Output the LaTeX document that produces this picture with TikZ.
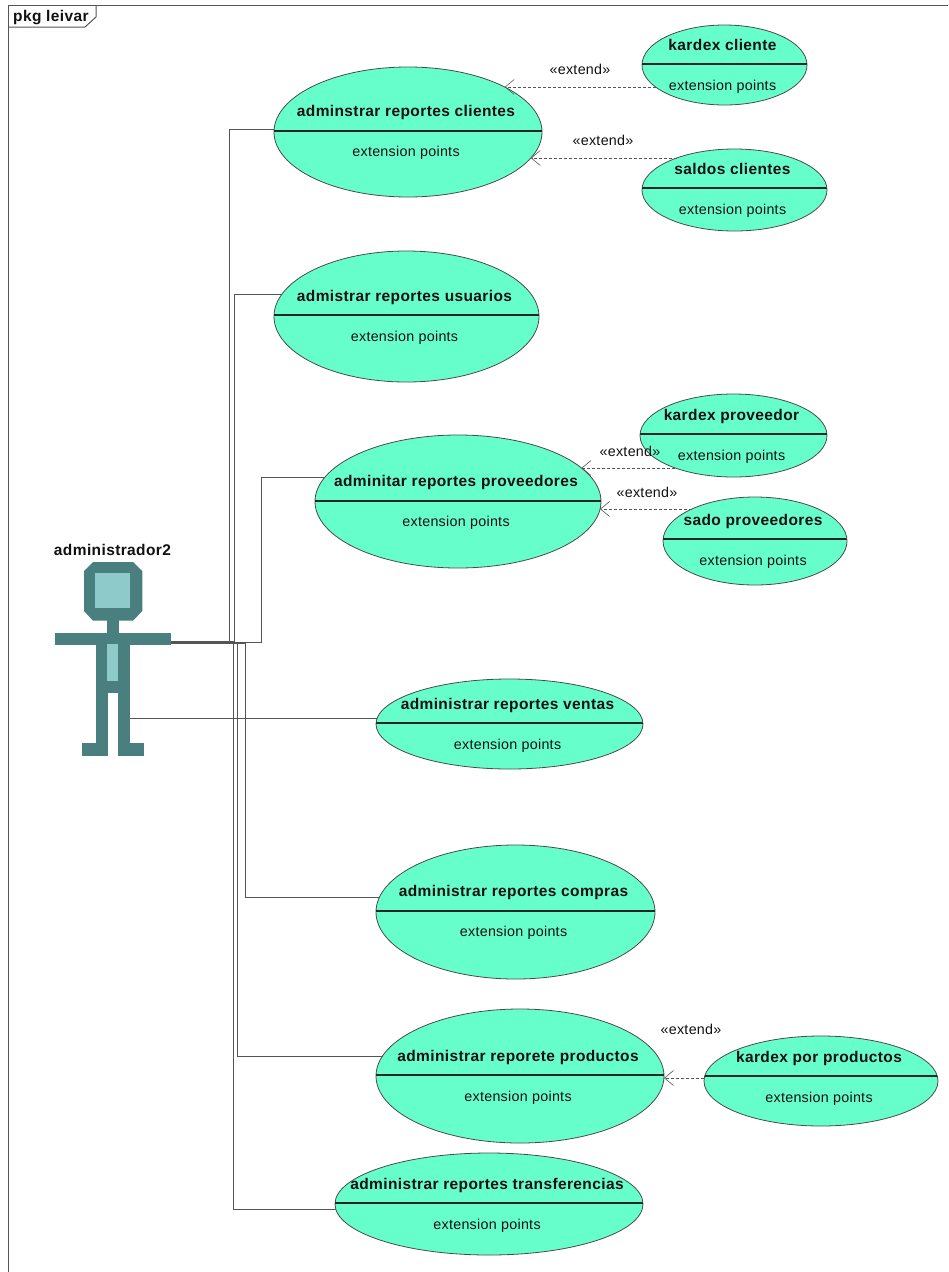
\documentclass[tikz,border=0pt]{standalone}
\usepackage{fontspec}
\setmainfont{Liberation Sans}
\usetikzlibrary{shapes.geometric,arrows.meta}
\definecolor{ucfill}{HTML}{66FFCC}
\definecolor{ucline}{HTML}{4A4A4A}
\definecolor{actordark}{HTML}{4A7F80}
\definecolor{actorlight}{HTML}{8FCACA}
\definecolor{wire}{HTML}{555555}
\definecolor{txt}{HTML}{111111}
\newcommand\boldface{\bfseries\fontsize{15.5}{17}\selectfont\addfontfeature{LetterSpace=2.5}}
\newcommand\plainface{\fontsize{14.3}{17}\selectfont\addfontfeature{LetterSpace=2}}
\tikzset{
  ucshape/.style={draw=ucline,fill=ucfill,line width=0.8pt,ellipse,inner sep=0pt,outer sep=0pt},
  uctitle/.style={font=\boldface,text=txt,inner sep=0pt,text height=11pt,text depth=3pt,yshift=-1pt},
  ucsub/.style={font=\plainface,text=txt,inner sep=0pt,text height=11pt,text depth=3pt,yshift=-1pt},
  stereo/.style={font=\plainface,text=txt,inner sep=0pt,text height=11pt,text depth=3pt,yshift=-1pt},
  divider/.style={draw=black!85,line width=1.1pt},
  assoc/.style={draw=wire,line width=0.9pt},
  extendline/.style={draw=wire,line width=1pt,dash pattern=on 3pt off 2pt,-{Straight Barb[length=9pt,width=15pt,line width=0.6pt]}},
  body/.style={fill=actordark,draw=none},
  bodylight/.style={fill=actorlight,draw=none},
  frameline/.style={draw=wire,line width=1pt}
}
\newcommand\usecase[9]{%
  \node[ucshape,minimum width={#3pt-#2pt},minimum height={#5pt-#4pt}] (#1) at ({(#2+#3)/2},{(#4+#5)/2}) {};
  \begin{scope}
    \clip ({(#2+#3)/2},{(#4+#5)/2}) ellipse [x radius={(#3-#2)/2},y radius={(#5-#4)/2}];
    \draw[divider] (#2,#6) -- (#3,#6);
  \end{scope}
  \node[uctitle] (#1title) at ({(#2+#3)/2-2},#7) {#9};
  \node[ucsub] (#1sub) at ({(#2+#3)/2-2},#8) {extension points};
}
\begin{document}
\begin{tikzpicture}[x=1pt,y=-1pt]
\useasboundingbox (0,0) rectangle (948,1272);
\fill[white] (0,0) rectangle (948,1272);
% frame
\draw[frameline] (8,1272) -- (8,5) -- (948,5);
\draw[frameline] (8,27) -- (85,27) -- (96,17) -- (96,5);
\node[uctitle,anchor=west] (pkg) at (13,16) {pkg leivar};
% use cases
\usecase{repcli}{274}{542}{67}{197}{131}{111}{151}{adminstrar reportes clientes}
\usecase{karcli}{642}{807}{25}{105}{64}{45}{85}{kardex cliente}
\usecase{salcli}{642}{827}{149}{231}{188}{169}{209}{saldos clientes}
\usecase{repusu}{274}{539}{251}{382}{315}{296}{336}{admistrar reportes usuarios}
\usecase{karpro}{640}{827}{394}{477}{434}{415}{455}{kardex proveedor}
\usecase{reppro}{315}{601}{435}{568}{501}{481}{521}{adminitar reportes proveedores}
\usecase{sadpro}{663}{847}{497}{585}{539}{520}{560}{sado proveedores}
\usecase{repven}{376}{643}{679}{769}{723}{704}{744}{administrar reportes ventas}
\usecase{repcom}{376}{655}{845}{979}{911}{891}{931}{administrar reportes compras}
\usecase{repprd}{376}{664}{1009}{1143}{1075}{1056}{1096}{administrar reporete productos}
\usecase{karprd}{704}{938}{1036}{1126}{1076}{1057}{1097}{kardex por productos}
\usecase{reptra}{335}{643}{1153}{1255}{1203}{1184}{1224}{administrar reportes transferencias}
% actor
\node[uctitle] (actorname) at (112.5,550) {administrador2};
\fill[body] (93,562) -- (133,562) -- (142.3,571) -- (142.3,611) -- (133,620.7) -- (93,620.7) -- (84,611) -- (84,571) -- cycle;
\fill[bodylight] (94.7,572.7) rectangle (130.3,608.3);
\fill[body] (107,620) rectangle (119.3,634);
\fill[body] (55.3,633) rectangle (171.3,645.3);
\fill[body] (96.3,645) rectangle (130.3,693.3);
\fill[body] (96.3,693) rectangle (108.3,756);
\fill[body] (118,693) rectangle (130.3,756);
\fill[body] (82.3,743.3) rectangle (108.3,756);
\fill[body] (118,743.3) rectangle (143.7,756);
\fill[bodylight] (107,644) rectangle (118,681);
\coordinate (handup) at (171,641);
\coordinate (handmid) at (171,642);
\coordinate (handdown) at (171,643);
\coordinate (leg) at (130,718);
% associations
\draw[assoc] (handup) -- ++(58,0) |- ([shift={(-133.9,-3)}]repcli.center);
\draw[assoc] (handup) -- ++(63,0) |- ([shift={(-124.4,-22.5)}]repusu.center);
\draw[assoc] (handmid) -- ++(90,0) |- ([shift={(-132.9,-24.5)}]reppro.center);
\draw[assoc] (leg) -| ([shift={(-132.3,-6)}]repven.center);
\draw[assoc] (handdown) -- ++(74,0) |- ([shift={(-136,-15)}]repcom.center);
\draw[assoc] (handdown) -- ++(66,0) |- ([shift={(-137.4,-20)}]repprd.center);
\draw[assoc] (handdown) -- ++(62,0) |- ([shift={(-153.3,5)}]reptra.center);
% extends
\draw[extendline] ([shift={(-68.9,22)}]karcli.center) -- ([shift={(96.7,-45)}]repcli.center);
\draw[extendline] ([shift={(-57.8,-32)}]salcli.center) -- ([shift={(122.8,26)}]repcli.center);
\draw[extendline] ([shift={(-58.1,32.5)}]karpro.center) -- ([shift={(123.5,-33.5)}]reppro.center);
\draw[extendline] ([shift={(-63.1,-32)}]sadpro.center) -- ([shift={(142.1,7.5)}]reppro.center);
\draw[extendline] ([shift={(-116.8,-3)}]karprd.center) -- ([shift={(144,2)}]repprd.center);
\node[stereo] (ext1) at (580,69) {«extend»};
\node[stereo] (ext2) at (603,140) {«extend»};
\node[stereo] (ext3) at (630,451) {«extend»};
\node[stereo] (ext4) at (647,492) {«extend»};
\node[stereo] (ext5) at (691,1029) {«extend»};
\end{tikzpicture}
\end{document}
